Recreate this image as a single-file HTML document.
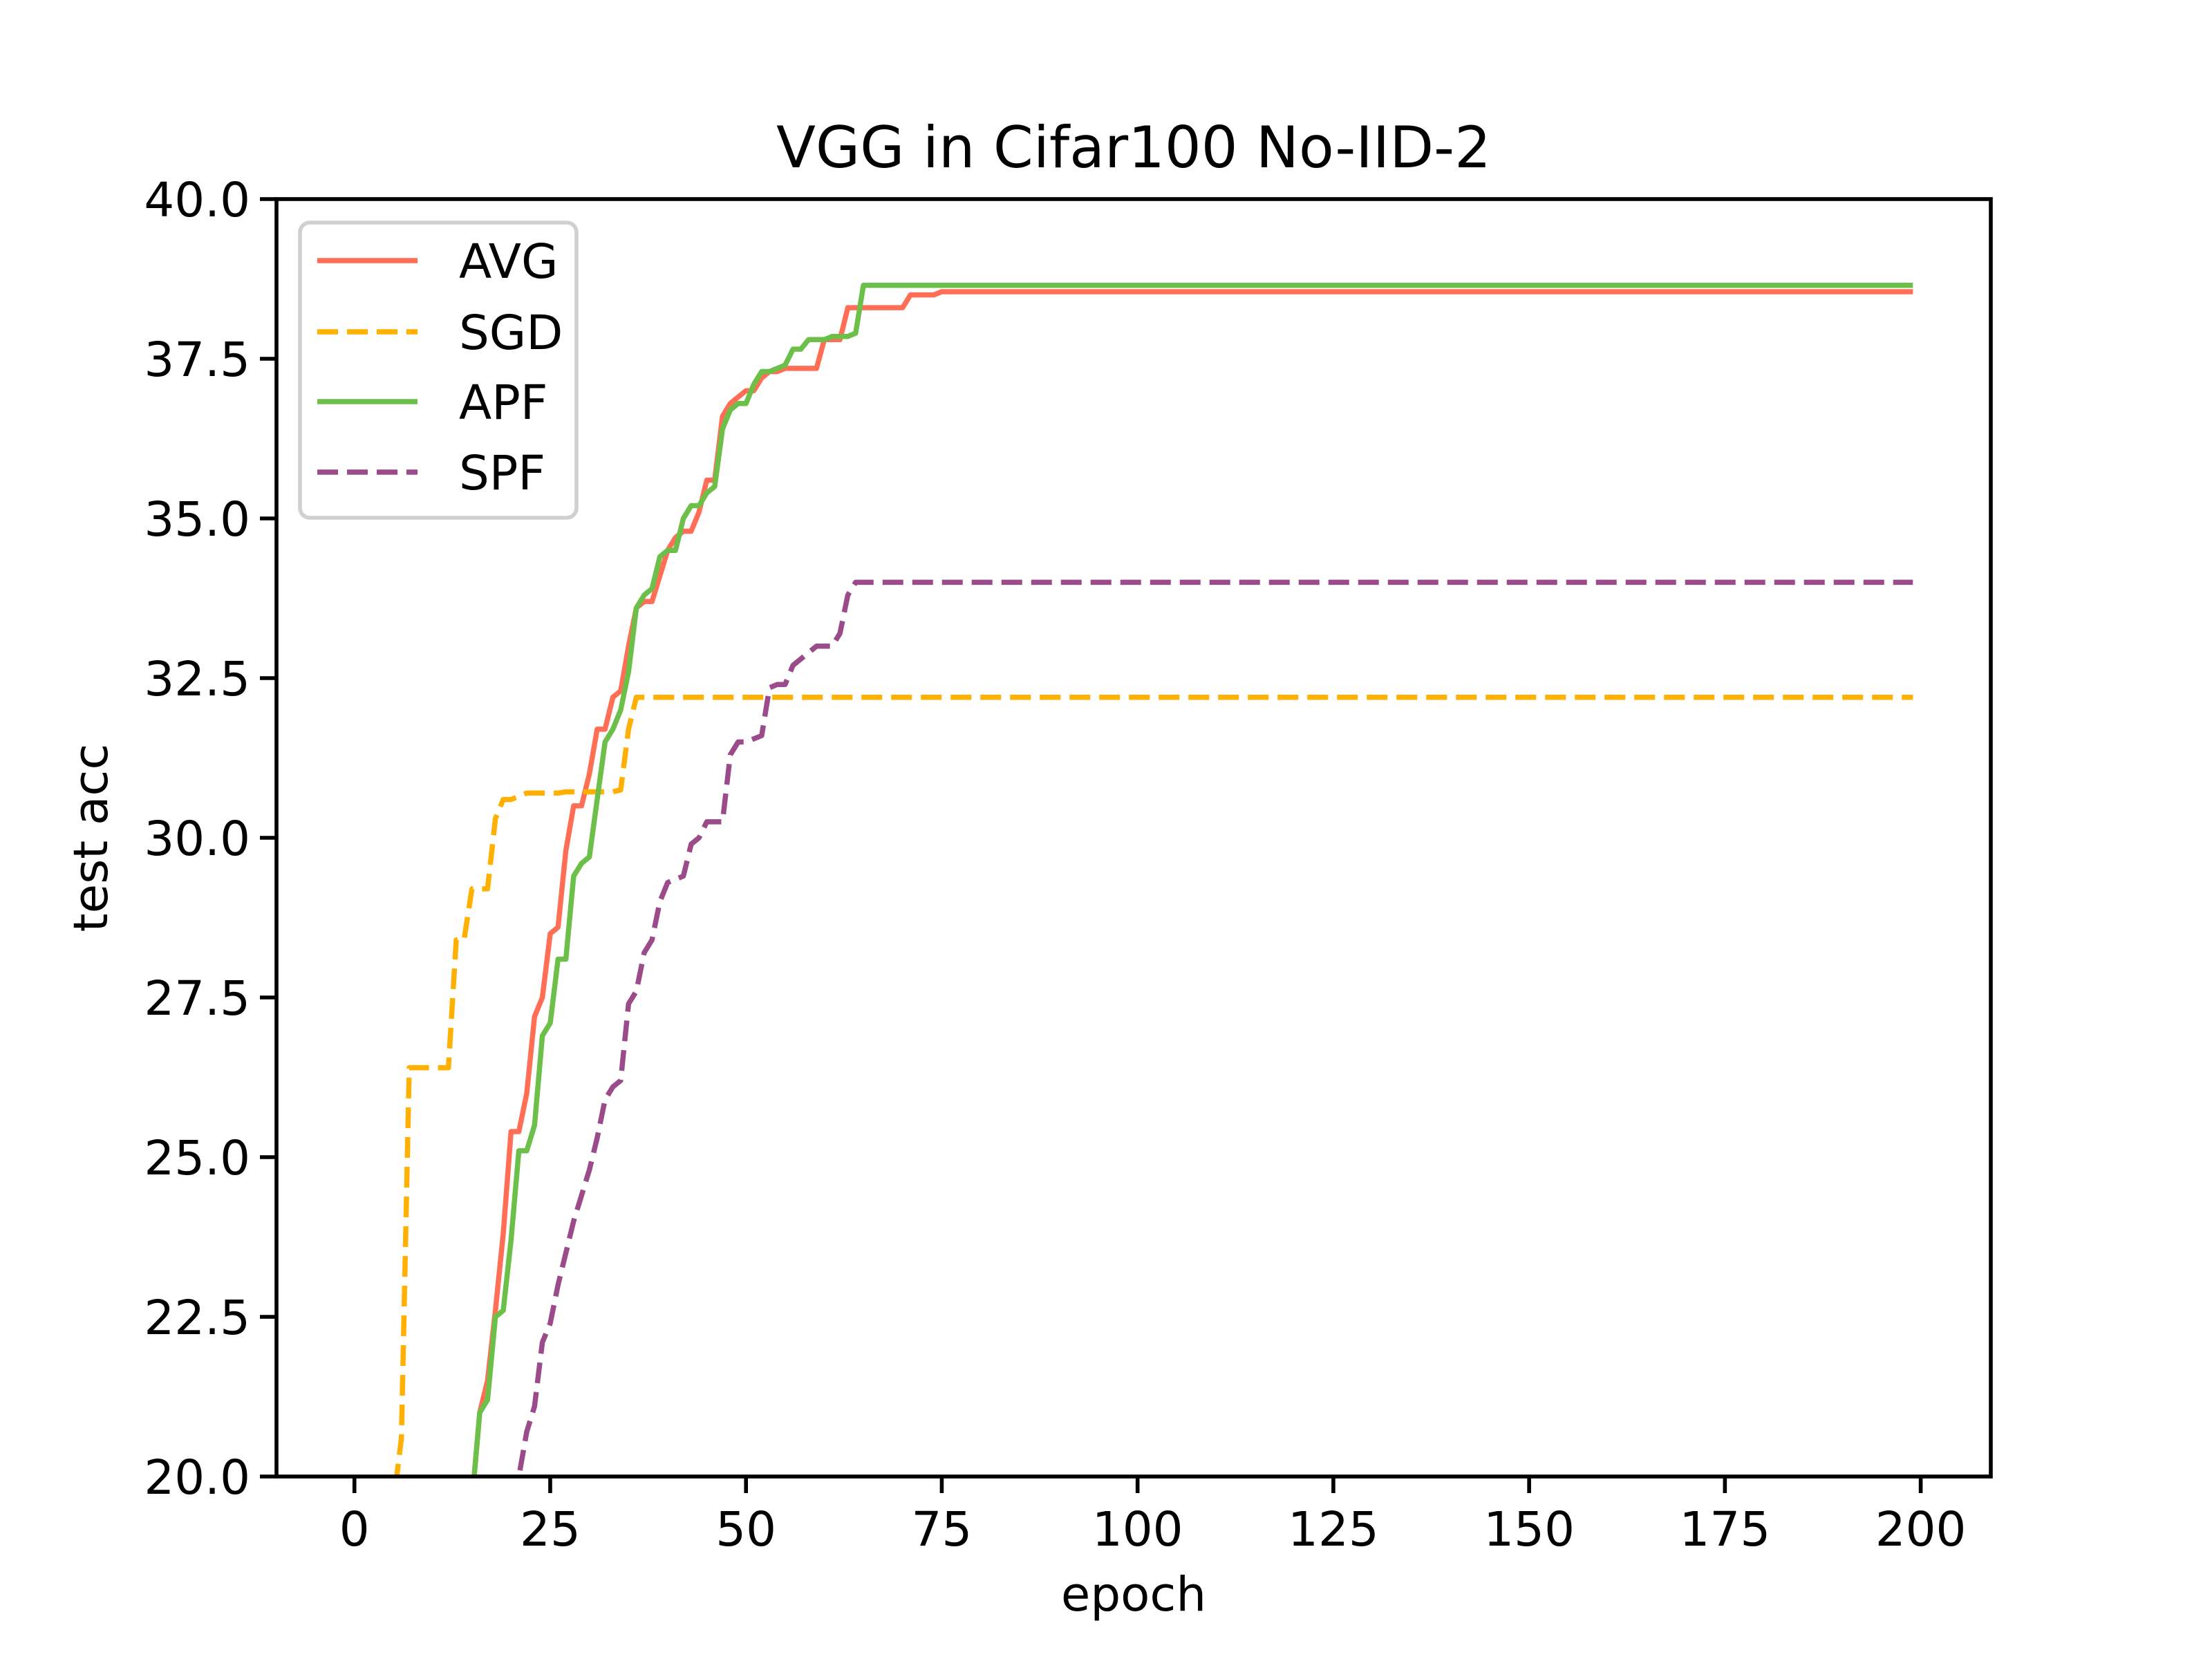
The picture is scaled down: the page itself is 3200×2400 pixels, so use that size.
<!DOCTYPE html>
<html><head><meta charset="utf-8"><style>
html,body{margin:0;padding:0;background:#fff;overflow:hidden;width:3200px;height:2400px;position:relative;}
svg{display:block;position:absolute;left:0;top:0;overflow:hidden;font-family:"DejaVu Sans","Liberation Sans",sans-serif;}
</style></head><body>
<svg id="chart" width="3200" height="2400" viewBox="0 0 3200 2400" xmlns="http://www.w3.org/2000/svg">
<rect width="3200" height="2400" fill="#fff"/>
<defs><clipPath id="plotclip"><rect x="400" y="288" width="2480" height="1848"/></clipPath></defs>
<text x="1640" y="242" font-size="83" text-anchor="middle">VGG in Cifar100 No-IID-2</text>
<g id="ticks"></g>
<g id="series" clip-path="url(#plotclip)"></g>
<rect x="400" y="288" width="2480" height="1848" fill="none" stroke="#000" stroke-width="5.6"/>
<text x="1640" y="2330" font-size="69" text-anchor="middle">epoch</text>
<text x="155" y="1212" font-size="69" text-anchor="middle" transform="rotate(-90 155 1212)">test acc</text>
<g id="legend">
<rect x="434" y="322" width="400" height="427" rx="14" fill="#fff" fill-opacity="0.8" stroke="#d0d0d0" stroke-width="5.6"/>
</g>
</svg>
<script>
const xTicks = [0,25,50,75,100,125,150,175,200];
const yTicks = [20.0,22.5,25.0,27.5,30.0,32.5,35.0,37.5,40.0];
const seriesNames = ["AVG","SGD","APF","SPF"];
const nEpochs = 200;
const avgHead = [10,11,12,13,14,15,15.5,16,16.5,17,17.5,18,18.5,19,19.3,19.6,21.0,21.5,22.6,23.8,25.4,25.4,26.0,27.2,27.5,28.5,28.6,29.8,30.5,30.5,31.0,31.7,31.7,32.2,32.3,33.0,33.6,33.7,33.7,34.1,34.5,34.7,34.8,34.8,35.1,35.6,35.6,36.6,36.8,36.9,37.0,37.0,37.2,37.3,37.3,37.35,37.35,37.35,37.35,37.35,37.8,37.8,37.8,38.3,38.3,38.3,38.3,38.3,38.3,38.3,38.3,38.5,38.5,38.5,38.5,38.55];
const avgTail = 38.55;
const sgdHead = [5,8,11,14,17,19.6,20.6,26.4,26.4,26.4,26.4,26.4,26.4,28.4,28.4,29.2,29.2,29.2,30.3,30.6,30.6,30.65,30.7,30.7,30.7,30.7,30.7,30.72,30.72,30.72,30.72,30.72,30.72,30.72,30.75,31.7,32.2];
const sgdTail = 32.2;
const apfHead = [10,11,12,13,14,15,15.5,16,16.5,17,17.5,18,18.5,19,19.3,19.6,21.0,21.2,22.5,22.6,23.7,25.1,25.1,25.5,26.9,27.1,28.1,28.1,29.4,29.6,29.7,30.6,31.5,31.7,32.0,32.6,33.6,33.8,33.9,34.4,34.5,34.5,35.0,35.2,35.2,35.4,35.5,36.4,36.7,36.8,36.8,37.1,37.3,37.3,37.35,37.4,37.65,37.65,37.8,37.8,37.8,37.85,37.85,37.85,37.9,38.65];
const apfTail = 38.65;
const spfHead = [5,6,7,8,9,10,11,12,13,14,15,15.5,16,16.5,17,17.5,18,18.5,19,19.3,19.6,20.0,20.7,21.1,22.1,22.4,23.0,23.5,24.0,24.4,24.8,25.3,25.9,26.1,26.2,27.4,27.6,28.2,28.4,29.0,29.3,29.35,29.4,29.9,30.0,30.25,30.25,30.25,31.3,31.5,31.5,31.55,31.6,32.35,32.4,32.4,32.7,32.8,32.9,33.0,33.0,33.0,33.2,33.8,34.0];
const spfTail = 34.0;

const X0=400,X1=2880,Y0=2136,Y1=288,XMIN=-9.95,XMAX=208.95,YMIN=20,YMAX=40;
const sx=v=>X0+(v-XMIN)/(XMAX-XMIN)*(X1-X0);
const sy=v=>Y0-(v-YMIN)/(YMAX-YMIN)*(Y0-Y1);
const NS="http://www.w3.org/2000/svg";
function mk(tag,attrs,parent){const e=document.createElementNS(NS,tag);for(const k in attrs)e.setAttribute(k,attrs[k]);parent.appendChild(e);return e;}
function full(head,tail){const out=[];for(let i=0;i<nEpochs;i++)out.push(i<head.length?head[i]:tail);return out;}
const tg=document.getElementById('ticks');
xTicks.forEach(t=>{
  const l=mk('line',{x1:sx(t),x2:sx(t),y1:Y0,y2:Y0+24,stroke:'#000','stroke-width':5.6},tg);
  
  
  const tx=mk('text',{x:sx(t),y:Y0+100,'font-size':69,'text-anchor':'middle'},tg);
  tx.textContent=String(t);
  
  
});
yTicks.forEach(t=>{
  const l=mk('line',{x1:X0-24,x2:X0,y1:sy(t),y2:sy(t),stroke:'#000','stroke-width':5.6},tg);
  
  
  const tx=mk('text',{x:X0-38,y:sy(t)+25,'font-size':69,'text-anchor':'end'},tg);
  tx.textContent=t.toFixed(1);
  
  
});
const styles=[
  {data:full(avgHead,avgTail),color:'#ff6e55',dash:null},
  {data:full(sgdHead,sgdTail),color:'#ffb000',dash:'30,13'},
  {data:full(apfHead,apfTail),color:'#6cc04a',dash:null},
  {data:full(spfHead,spfTail),color:'#9b4a8a',dash:'30,13'}
];
const sg=document.getElementById('series');
const lg=document.getElementById('legend');
const legendY=[377,480,581,683];
styles.forEach((s,i)=>{
  const d=s.data.map((v,k)=>(k?'L':'M')+sx(k).toFixed(1)+','+sy(v).toFixed(1)).join(' ');
  const a={d:d,fill:'none',stroke:s.color,'stroke-width':7.5,'stroke-linejoin':'round'};
  if(s.dash)a['stroke-dasharray']=s.dash;
  const p=mk('path',a,sg);
  
  
  const la={x1:459,x2:604,y1:legendY[i],y2:legendY[i],stroke:s.color,'stroke-width':7.5};
  if(s.dash)la['stroke-dasharray']=s.dash;
  const ll=mk('line',la,lg);
  
  
  const lt=mk('text',{x:664,y:legendY[i]+25,'font-size':69},lg);
  lt.textContent=seriesNames[i];
  
  
});
</script>
</body></html>
